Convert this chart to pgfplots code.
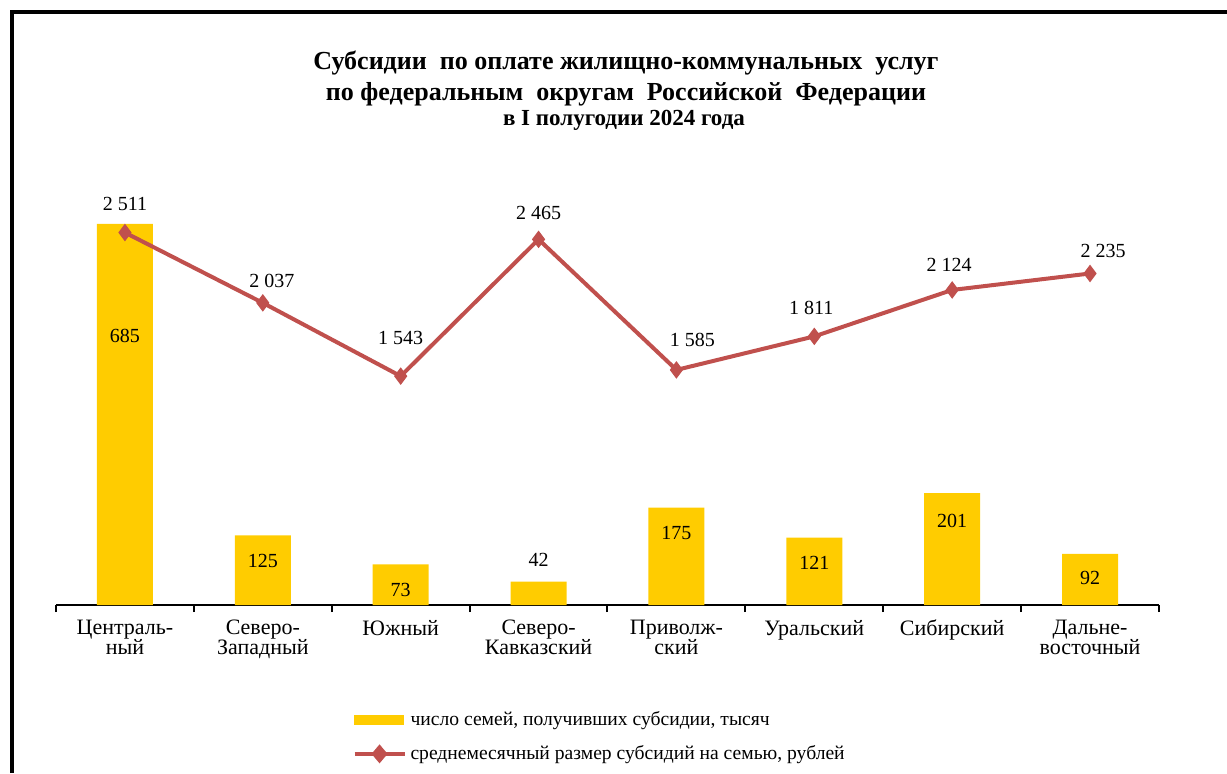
\documentclass[border=0pt]{standalone}
\usepackage{pgfplots}
\pgfplotsset{compat=1.18}
\usepackage{fontspec}
\setmainfont{Liberation Serif}
\definecolor{barY}{HTML}{FFCC00}
\definecolor{lineR}{HTML}{C0504D}
\begin{document}
\begin{tikzpicture}[x=0.5pt,y=-0.5pt]
\useasboundingbox (0,0) rectangle (1227,773);
\draw[line width=2pt] (11.5,773) -- (11.5,11.5) -- (1227,11.5);
\node[font=\bfseries\fontsize{13}{15.5}\selectfont, align=center] at (626,78) {Субсидии\ \ по оплате жилищно-коммунальных\ \ услуг\\по федеральным\ \ округам\ \ Российской\ \ Федерации};
\node[font=\bfseries\fontsize{11.5}{13}\selectfont] at (624,120) {в I полугодии 2024 года};
\begin{axis}[at={(28pt,-302.5pt)}, anchor=south west, scale only axis,
  width=551.5pt, height=222.5pt,
  xmin=-0.5, xmax=7.5, ymin=0, ymax=800,
  axis y line=none, axis x line=bottom,
  x axis line style={-, line width=1pt},
  xtick={0,...,7}, major tick length=0pt,
  minor xtick={-0.5,0.5,...,7.5}, minor tick length=3.5pt,
  tick align=outside, tick style={black, line width=1pt},
  xticklabels={{Централь-\\ный},{Северо-\\Западный},{Южный},{Северо-\\Кавказский},{Приволж-\\ский},{Уральский},{Сибирский},{Дальне-\\восточный}},
  xticklabel style={align=center, font=\fontsize{11}{10}\selectfont, yshift=-4pt},
  clip=false]
\addplot[ybar, bar width=28pt, fill=barY, draw=none] coordinates {(0,685) (1,125) (2,73) (3,42) (4,175) (5,121) (6,201) (7,92)};
\begin{scope}[every node/.style={font=\fontsize{10}{12}\selectfont}]
\node at (axis cs:0,483.6) {685};
\node at (axis cs:1,79.1) {125};
\node at (axis cs:2,27) {73};
\node at (axis cs:3,80.9) {42};
\node at (axis cs:4,129.4) {175};
\node at (axis cs:5,75.5) {121};
\node at (axis cs:6,151) {201};
\node at (axis cs:7,48.5) {92};
\end{scope}
\end{axis}
\begin{axis}[at={(28pt,-302.5pt)}, anchor=south west, scale only axis,
  width=551.5pt, height=222.5pt,
  xmin=-0.5, xmax=7.5, ymin=0, ymax=3000,
  hide axis, clip=false,
  legend style={draw=none, fill=none, at={(0.2685,-0.229)}, anchor=north west,
    font=\fontsize{9.8}{11}\selectfont, row sep=4.5pt, inner sep=0pt},
  legend cell align=left]
\addlegendimage{legend image code/.code={\fill[barY] (0pt,-2.25pt) rectangle (24.5pt,2.25pt);}}
\addlegendentry{число семей, получивших субсидии, тысяч}
\addplot[lineR, line width=2pt, mark=diamond*, mark size=4pt, mark options={solid, fill=lineR, line width=0.5pt},
  legend image code/.code={\draw[lineR, line width=2pt] (0pt,0pt) -- (25pt,0pt); \fill[lineR] (12.5pt,3.2pt) -- (15.2pt,0pt) -- (12.5pt,-3.2pt) -- (9.8pt,0pt) -- cycle;}]
  coordinates {(0,2511) (1,2037) (2,1543) (3,2465) (4,1585) (5,1811) (6,2124) (7,2235)};
\addlegendentry{среднемесячный размер субсидий на семью, рублей}
\begin{scope}[every node/.style={font=\fontsize{10}{12}\selectfont}]
\node at (axis cs:0,2703) {2 511};
\node at (axis cs:1.065,2184) {2 037};
\node at (axis cs:2,1800) {1 543};
\node at (axis cs:3,2643) {2 465};
\node at (axis cs:4.116,1786) {1 585};
\node at (axis cs:4.978,2002) {1 811};
\node at (axis cs:5.978,2292) {2 124};
\node at (axis cs:7.094,2387) {2 235};
\end{scope}
\end{axis}
\end{tikzpicture}
\end{document}
